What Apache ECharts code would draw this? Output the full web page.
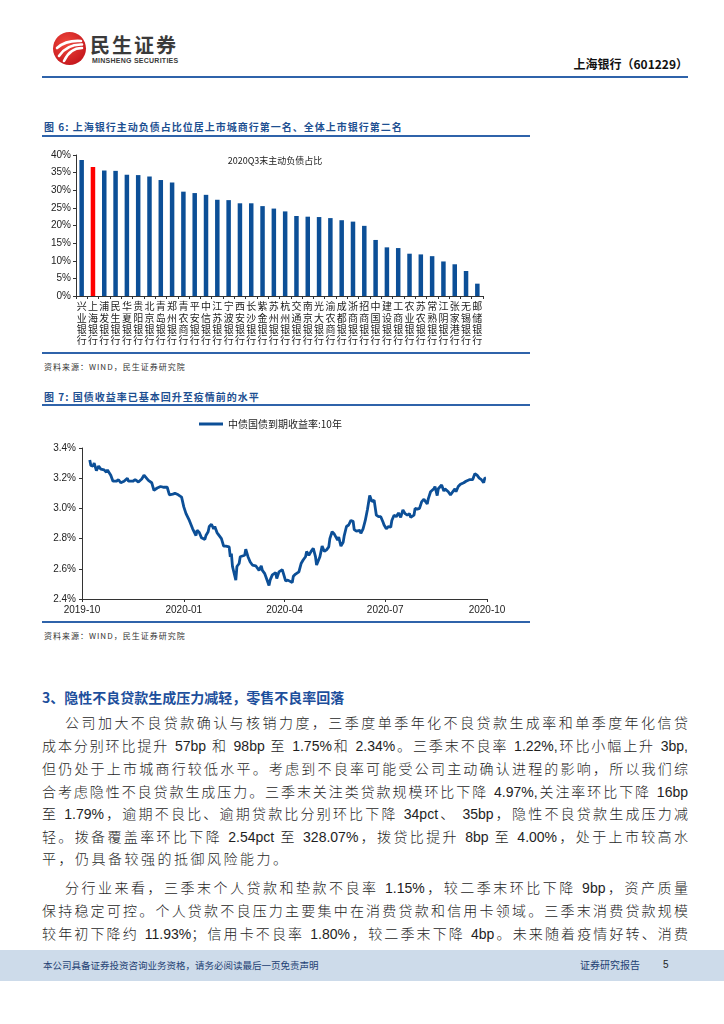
<!DOCTYPE html>
<html>
<head>
<meta charset="utf-8">
<script src="https://cdn.jsdelivr.net/npm/echarts@6/dist/echarts.min.js"></script>
<style>
html,body{margin:0;padding:0;background:#fff;}
#page{position:relative;width:724px;height:1024px;overflow:hidden;background:#fff;font-family:"Liberation Sans","Noto Sans CJK SC",sans-serif;}
.abs{position:absolute;}
.ttl{position:absolute;left:44px;font-size:10px;font-weight:bold;color:#1d4f91;letter-spacing:1px;white-space:nowrap;font-family:"Noto Sans CJK SC",sans-serif;}
.src{position:absolute;left:44px;font-size:8px;color:#333;letter-spacing:1px;white-space:nowrap;font-family:"Noto Sans CJK SC",sans-serif;}
.hl{position:absolute;background:#2f63aa;}
.ln{position:absolute;left:42px;width:646px;height:18px;line-height:18px;font-size:14px;color:#1e1e1e;text-align:justify;text-align-last:justify;font-family:"Liberation Sans","Noto Sans CJK SC",sans-serif;font-weight:300;}
.ln.ind{left:65px;width:623px;}
.ln.last{text-align-last:left;letter-spacing:2.5px;}
</style>
</head>
<body>
<div id="page">
  <!-- header -->
  <svg class="abs" style="left:52px;top:31px" width="36" height="36" viewBox="0 0 36 36">
    <defs><radialGradient id="rg" cx="40%" cy="35%" r="70%"><stop offset="0" stop-color="#f0483c"/><stop offset="1" stop-color="#c4161c"/></radialGradient></defs>
    <circle cx="17.5" cy="17.5" r="16.5" fill="url(#rg)"/>
    <path d="M5 17 Q14 9 29 10" stroke="#fff" stroke-width="2.6" fill="none" stroke-linecap="round"/>
    <path d="M7 25 Q15 13 30 13.5" stroke="#fff" stroke-width="2.6" fill="none" stroke-linecap="round"/>
    <path d="M12 30 Q18 17 30 17" stroke="#fff" stroke-width="2.6" fill="none" stroke-linecap="round"/>
  </svg>
  <div class="abs" style="left:90px;top:35px;font-size:20px;line-height:20px;font-weight:bold;color:#3a3a3a;letter-spacing:2px;font-family:'Noto Sans CJK SC',sans-serif;white-space:nowrap;">民生证券</div>
  <div class="abs" style="left:92px;top:57px;font-size:7px;line-height:7px;font-weight:bold;color:#3a3a3a;letter-spacing:0.25px;white-space:nowrap;">MINSHENG SECURITIES</div>
  <div class="abs" style="right:36px;top:55px;font-size:12px;line-height:18px;font-weight:bold;color:#111;white-space:nowrap;font-family:'Noto Sans CJK SC',serif;">上海银行（601229）</div>
  <div class="hl" style="left:42px;top:76px;width:646px;height:2px;"></div>

  <!-- figure 6 -->
  <div class="ttl" style="top:120px;line-height:14px;">图 6: 上海银行主动负债占比位居上市城商行第一名、全体上市银行第二名</div>
  <div class="hl" style="left:42px;top:135px;width:488px;height:1.5px;"></div>
  <div id="c1" class="abs" style="left:30px;top:140px;width:480px;height:212px;"></div>
  <div class="hl" style="left:42px;top:352px;width:488px;height:1.5px;"></div>
  <div class="src" style="top:361px;line-height:12px;">资料来源：WIND，民生证券研究院</div>

  <!-- figure 7 -->
  <div class="ttl" style="top:390px;line-height:14px;">图 7: 国债收益率已基本回升至疫情前的水平</div>
  <div class="hl" style="left:42px;top:404px;width:488px;height:1.5px;"></div>
  <div id="c2" class="abs" style="left:30px;top:405px;width:480px;height:215px;"></div>
  <div class="hl" style="left:42px;top:621px;width:488px;height:1.5px;"></div>
  <div class="src" style="top:630px;line-height:12px;">资料来源：WIND，民生证券研究院</div>

  <!-- section -->
  <div class="abs" style="left:42px;top:688px;font-size:14px;line-height:18px;font-weight:bold;color:#1d4f9c;white-space:nowrap;font-family:'Noto Sans CJK SC',sans-serif;">3、隐性不良贷款生成压力减轻，零售不良率回落</div>

  <div class="ln ind" style="top:714px;">公司加大不良贷款确认与核销力度，三季度单季年化不良贷款生成率和单季度年化信贷</div>
  <div class="ln" style="top:737px;">成本分别环比提升 57bp 和 98bp 至 1.75%和 2.34%。三季末不良率 1.22%,环比小幅上升 3bp,</div>
  <div class="ln" style="top:760px;">但仍处于上市城商行较低水平。考虑到不良率可能受公司主动确认进程的影响，所以我们综</div>
  <div class="ln" style="top:783px;">合考虑隐性不良贷款生成压力。三季末关注类贷款规模环比下降 4.97%,关注率环比下降 16bp</div>
  <div class="ln" style="top:805px;">至 1.79%，逾期不良比、逾期贷款比分别环比下降 34pct、 35bp，隐性不良贷款生成压力减</div>
  <div class="ln" style="top:828px;">轻。拨备覆盖率环比下降 2.54pct 至 328.07%，拨贷比提升 8bp 至 4.00%，处于上市较高水</div>
  <div class="ln last" style="top:850px;">平，仍具备较强的抵御风险能力。</div>

  <div class="ln ind" style="top:879px;">分行业来看，三季末个人贷款和垫款不良率 1.15%，较二季末环比下降 9bp，资产质量</div>
  <div class="ln" style="top:902px;">保持稳定可控。个人贷款不良压力主要集中在消费贷款和信用卡领域。三季末消费贷款规模</div>
  <div class="ln" style="top:925px;">较年初下降约 11.93%；信用卡不良率 1.80%，较二季末下降 4bp。未来随着疫情好转、消费</div>

  <!-- footer -->
  <div class="abs" style="left:0;top:950px;width:724px;height:31px;background:#cddbea;"></div>
  <div class="abs" style="left:43px;top:958px;font-size:9.5px;line-height:14px;color:#233f73;white-space:nowrap;font-family:'Noto Sans CJK SC',sans-serif;">本公司具备证券投资咨询业务资格，请务必阅读最后一页免责声明</div>
  <div class="abs" style="left:580px;top:958px;font-size:10px;line-height:14px;color:#233f73;white-space:nowrap;font-family:'Noto Sans CJK SC',sans-serif;">证券研究报告</div>
  <div class="abs" style="left:663px;top:958px;font-size:10px;line-height:14px;color:#222;">5</div>
</div>

<script>
// ---------- Figure 6 data ----------
var bankNames = ['兴业银行','上海银行','浦发银行','民生银行','华夏银行','贵阳银行','北京银行','青岛银行','郑州银行','青农商行','平安银行','中信银行','江苏银行','宁波银行','西安银行','长沙银行','紫金银行','苏州银行','杭州银行','交通银行','南京银行','光大银行','渝农商行','成都银行','浙商银行','招商银行','中国银行','建设银行','工商银行','农业银行','苏农银行','常熟银行','江阴银行','张家港行','无锡银行','邮储银行'];
var activeLiabRatio = [38.6,36.6,35.6,35.5,34.4,34.3,33.9,32.9,32.2,29.6,29.2,28.7,27.3,27.2,26.3,26.3,25.5,24.8,24.0,22.7,22.5,22.4,22.1,21.5,21.1,19.9,15.9,13.8,13.6,12.0,11.8,11.3,9.8,9.0,7.1,3.5];
var highlightBank = '上海银行';
var ratioTicks = [0,5,10,15,20,25,30,35,40];

// ---------- Figure 7 data ----------
var bondDates = ['2019-10-08','2019-10-09','2019-10-11','2019-10-12','2019-10-14','2019-10-16','2019-10-18','2019-10-21','2019-10-23','2019-10-24','2019-10-27','2019-10-29','2019-11-01','2019-11-03','2019-11-05','2019-11-08','2019-11-11','2019-11-12','2019-11-16','2019-11-18','2019-11-21','2019-11-24','2019-11-26','2019-11-27','2019-11-30','2019-12-03','2019-12-05','2019-12-08','2019-12-11','2019-12-14','2019-12-17','2019-12-19','2019-12-22','2019-12-24','2019-12-27','2019-12-30','2020-01-01','2020-01-03','2020-01-06','2020-01-09','2020-01-12','2020-01-13','2020-01-15','2020-01-17','2020-01-20','2020-01-21','2020-01-23','2020-01-24','2020-01-26','2020-01-28','2020-01-29','2020-01-31','2020-02-02','2020-02-04','2020-02-06','2020-02-08','2020-02-11','2020-02-12','2020-02-13','2020-02-14','2020-02-17','2020-02-18','2020-02-20','2020-02-21','2020-02-23','2020-02-25','2020-02-26','2020-02-28','2020-03-01','2020-03-03','2020-03-06','2020-03-07','2020-03-09','2020-03-11','2020-03-12','2020-03-14','2020-03-15','2020-03-18','2020-03-19','2020-03-21','2020-03-24','2020-03-25','2020-03-27','2020-03-30','2020-03-31','2020-04-02','2020-04-04','2020-04-05','2020-04-08','2020-04-09','2020-04-11','2020-04-14','2020-04-16','2020-04-18','2020-04-20','2020-04-21','2020-04-23','2020-04-25','2020-04-27','2020-04-29','2020-04-30','2020-05-03','2020-05-05','2020-05-07','2020-05-09','2020-05-11','2020-05-12','2020-05-14','2020-05-16','2020-05-19','2020-05-20','2020-05-22','2020-05-24','2020-05-25','2020-05-27','2020-05-29','2020-05-31','2020-06-02','2020-06-03','2020-06-05','2020-06-08','2020-06-09','2020-06-11','2020-06-13','2020-06-15','2020-06-17','2020-06-19','2020-06-21','2020-06-23','2020-06-25','2020-06-27','2020-06-29','2020-06-30','2020-07-02','2020-07-04','2020-07-06','2020-07-07','2020-07-09','2020-07-11','2020-07-13','2020-07-15','2020-07-17','2020-07-19','2020-07-21','2020-07-23','2020-07-24','2020-07-27','2020-07-28','2020-07-30','2020-08-01','2020-08-03','2020-08-05','2020-08-08','2020-08-09','2020-08-11','2020-08-14','2020-08-15','2020-08-17','2020-08-18','2020-08-21','2020-08-23','2020-08-24','2020-08-27','2020-08-29','2020-08-30','2020-09-02','2020-09-03','2020-09-05','2020-09-07','2020-09-10','2020-09-12','2020-09-15','2020-09-18','2020-09-20','2020-09-22','2020-09-24','2020-09-26','2020-09-28','2020-09-29','2020-09-30'];
var bondYields = [3.32,3.285,3.28,3.30,3.25,3.28,3.26,3.255,3.24,3.255,3.22,3.18,3.18,3.19,3.17,3.18,3.20,3.18,3.18,3.19,3.175,3.195,3.22,3.21,3.185,3.17,3.12,3.135,3.145,3.14,3.14,3.09,3.095,3.10,3.09,3.075,3.01,2.965,2.92,2.865,2.82,2.855,2.84,2.805,2.795,2.82,2.845,2.88,2.895,2.865,2.88,2.84,2.82,2.80,2.75,2.75,2.745,2.68,2.70,2.615,2.525,2.615,2.635,2.68,2.685,2.69,2.73,2.68,2.645,2.625,2.62,2.625,2.59,2.62,2.59,2.57,2.55,2.49,2.525,2.56,2.575,2.535,2.58,2.595,2.57,2.52,2.525,2.53,2.51,2.55,2.565,2.58,2.635,2.66,2.68,2.715,2.69,2.715,2.735,2.68,2.625,2.68,2.75,2.715,2.725,2.745,2.80,2.845,2.83,2.79,2.81,2.75,2.775,2.82,2.88,2.89,2.92,2.915,2.86,2.85,2.855,2.835,2.865,2.92,2.995,3.085,3.045,3.055,2.955,2.945,2.945,2.91,2.89,2.865,2.88,2.875,2.92,2.955,2.945,2.97,2.94,2.99,2.965,2.955,2.965,2.94,2.955,3.00,2.995,3.00,3.045,3.06,3.03,3.065,3.11,3.13,3.145,3.085,3.13,3.155,3.115,3.13,3.11,3.09,3.085,3.13,3.11,3.145,3.16,3.17,3.18,3.19,3.19,3.23,3.22,3.20,3.19,3.17,3.20,3.20];
var bondSeriesName = '中债国债到期收益率:10年';
var bondAxisMonths = ['2019-10-01','2020-01-01','2020-04-01','2020-07-01','2020-10-01'];
var yieldTicks = [2.4,2.6,2.8,3.0,3.2,3.4];

var AXIS = '#333';
var TXT = '#222';
var BLUE = '#0c4f97';
var RED = '#ff0000';

// ---------- Chart 1 ----------
var c1 = echarts.init(document.getElementById('c1'));
c1.setOption({
  animation: false,
  grid: {left: 46, top: 15, width: 407, height: 141, outerBoundsMode: 'none', containLabel: false},
  graphic: [{type: 'text', x: 245, y: 21, style: {text: '2020Q3末主动负债占比', font: '9px "Noto Sans CJK SC", sans-serif', fill: '#222', textAlign: 'center', textVerticalAlign: 'middle'}}],
  xAxis: {
    type: 'category', data: bankNames,
    axisLine: {show: true, lineStyle: {color: AXIS, width: 1}},
    axisTick: {show: true, alignWithLabel: false, interval: 0, length: 3, lineStyle: {color: AXIS}},
    axisLabel: {interval: 0, margin: 5, color: TXT, fontSize: 10, lineHeight: 11.3, fontFamily: 'Noto Sans CJK SC',
      formatter: function (v) { return v.split('').join('\n'); }}
  },
  yAxis: {
    type: 'value', min: ratioTicks[0], max: ratioTicks[ratioTicks.length - 1], interval: 5,
    axisLine: {show: true, lineStyle: {color: AXIS, width: 1}},
    axisTick: {show: true, length: 3, lineStyle: {color: AXIS}},
    splitLine: {show: false},
    axisLabel: {margin: 5, color: TXT, fontSize: 10, fontFamily: 'Liberation Sans', formatter: '{value}%'}
  },
  series: [{
    type: 'bar', barWidth: 4.5,
    data: activeLiabRatio.map(function (v, i) {
      return bankNames[i] === highlightBank ? {value: v, itemStyle: {color: RED}} : v;
    }),
    itemStyle: {color: BLUE}
  }]
});

// ---------- Chart 2 ----------
function toTs(s) { return Date.parse(s + 'T00:00:00Z'); }
function ym(v) {
  var d = new Date(v);
  var m = d.getUTCMonth() + 1;
  return d.getUTCFullYear() + '-' + (m < 10 ? '0' + m : m);
}
var monthTs = bondAxisMonths.map(toTs);
var c2 = echarts.init(document.getElementById('c2'));
c2.setOption({
  animation: false,
  grid: {left: 52, top: 43, width: 405, height: 151, outerBoundsMode: 'none', containLabel: false},
  legend: {
    show: true, left: 164, top: 9, itemWidth: 24, itemHeight: 3, icon: 'rect',
    textStyle: {fontSize: 10, color: TXT, fontFamily: 'Noto Sans CJK SC'},
    itemGap: 5, data: [bondSeriesName]
  },
  xAxis: {
    type: 'value', min: monthTs[0], max: monthTs[monthTs.length - 1],
    axisLine: {show: true, lineStyle: {color: AXIS, width: 1}},
    axisTick: {show: true, length: 3, lineStyle: {color: AXIS}, customValues: monthTs},
    axisLabel: {color: TXT, fontSize: 10, margin: 6, fontFamily: 'Liberation Sans', customValues: monthTs,
      showMinLabel: true, showMaxLabel: true, formatter: function (v) { return ym(v); }},
    splitLine: {show: false}
  },
  yAxis: {
    type: 'value', min: yieldTicks[0], max: yieldTicks[yieldTicks.length - 1], interval: 0.2,
    axisLine: {show: true, lineStyle: {color: AXIS, width: 1}},
    axisTick: {show: true, length: 3, lineStyle: {color: AXIS}},
    splitLine: {show: false},
    axisLabel: {margin: 6, color: TXT, fontSize: 10, fontFamily: 'Liberation Sans',
      formatter: function (v) { return v.toFixed(1) + '%'; }}
  },
  series: [{
    name: bondSeriesName, type: 'line', showSymbol: false, symbol: 'none',
    lineStyle: {color: BLUE, width: 2.8}, itemStyle: {color: BLUE},
    data: bondDates.map(function (d, i) { return [toTs(d), bondYields[i]]; })
  }]
});
</script>
</body>
</html>
